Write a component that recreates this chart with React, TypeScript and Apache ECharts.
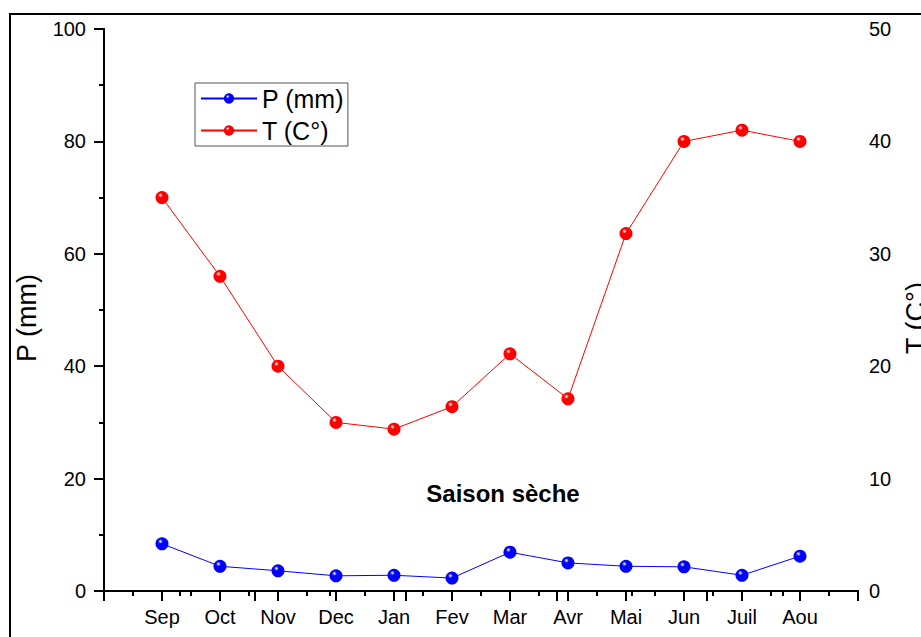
import React, { useEffect, useRef } from "react";
import * as echarts from "echarts";

const months = ["Sep", "Oct", "Nov", "Dec", "Jan", "Fev", "Mar", "Avr", "Mai", "Jun", "Juil", "Aou"];
const precip = [8.4, 4.4, 3.6, 2.7, 2.8, 2.3, 6.9, 5.0, 4.4, 4.3, 2.8, 6.2];
const temp = [35.0, 28.0, 20.0, 15.0, 14.4, 16.4, 21.1, 17.1, 31.8, 40.0, 41.0, 40.0];
const leftTicks = { min: 0, max: 100, interval: 20 };
const rightTicks = { min: 0, max: 50, interval: 10 };

const FONT = "'Liberation Sans', Arial, sans-serif";

const sphere = (c: string) =>
  new echarts.graphic.RadialGradient(0.38, 0.32, 0.75, [
    { offset: 0, color: "#ffffff" },
    { offset: 0.25, color: c },
    { offset: 1, color: c },
  ]);

export default function App() {
  const ref = useRef<HTMLDivElement>(null);
  useEffect(() => {
    if (!ref.current) return;
    const chart = echarts.init(ref.current, undefined, { renderer: "svg" });
    const axisLine = { show: true, lineStyle: { color: "#000", width: 2 } };
    chart.setOption({
      animation: false,
      backgroundColor: "#fff",
      textStyle: { fontFamily: FONT },
      grid: { left: 104, right: 63, top: 29, bottom: 46, containLabel: false, outerBoundsMode: "none" },
      legend: {
        orient: "vertical",
        left: 195,
        top: 83,
        padding: [3, 4, 3, 5],
        borderColor: "#555",
        borderWidth: 1,
        itemWidth: 56,
        itemHeight: 13,
        itemGap: 7,
        textStyle: { fontSize: 25, color: "#000", fontFamily: FONT },
        data: ["P (mm)", "T (C°)"],
      },
      xAxis: [
        {
          type: "value",
          position: "bottom",
          min: 0,
          max: 13,
          interval: 1,
          axisLine,
          axisTick: { show: true, inside: false, length: 10, lineStyle: { color: "#000", width: 2 } },
          minorTick: { show: true, splitNumber: 2, length: 5, lineStyle: { color: "#000", width: 2 } },
          splitLine: { show: false },
          axisLabel: {
            margin: 16,
            fontSize: 20,
            color: "#000",
            fontFamily: FONT,
            formatter: (v: number) => months[v - 1] ?? "",
          },
        },
        {
          type: "value",
          position: "top",
          min: 0,
          max: 5,
          interval: 1,
          axisLine,
          axisTick: { show: true, inside: true, length: 10, lineStyle: { color: "#000", width: 2 } },
          minorTick: { show: true, splitNumber: 2, length: 5, lineStyle: { color: "#000", width: 2 } },
          splitLine: { show: false },
          axisLabel: { show: false },
        },
      ],
      yAxis: [
        {
          type: "value",
          position: "left",
          ...leftTicks,
          name: "P (mm)",
          nameLocation: "middle",
          nameGap: 64,
          nameRotate: 90,
          nameTextStyle: { fontSize: 27, color: "#000", fontFamily: FONT, padding: [0, 16, 0, 0] },
          axisLine,
          axisTick: { show: true, inside: false, length: 10, lineStyle: { color: "#000", width: 2 } },
          minorTick: { show: true, splitNumber: 2, length: 5, lineStyle: { color: "#000", width: 2 } },
          splitLine: { show: false },
          axisLabel: { margin: 18, fontSize: 20, color: "#000", fontFamily: FONT },
        },
        {
          type: "value",
          position: "right",
          ...rightTicks,
          name: "T (C°)",
          nameLocation: "middle",
          nameGap: 44,
          nameRotate: 90,
          nameTextStyle: { fontSize: 27, color: "#000", fontFamily: FONT, padding: [0, 16, 0, 0] },
          axisLine,
          axisTick: { show: true, inside: true, length: 10, lineStyle: { color: "#000", width: 2 } },
          minorTick: { show: true, splitNumber: 2, length: 5, lineStyle: { color: "#000", width: 2 } },
          splitLine: { show: false },
          axisLabel: { margin: 11, fontSize: 20, color: "#000", fontFamily: FONT },
        },
      ],
      series: [
        {
          name: "P (mm)",
          type: "line",
          xAxisIndex: 0,
          yAxisIndex: 0,
          data: months.map((_, i) => [i + 1, precip[i]]),
          symbol: "circle",
          symbolSize: 13,
          lineStyle: { color: "#0000ff", width: 1 },
          itemStyle: { color: sphere("#0000ff"), borderWidth: 0 },
        },
        {
          name: "T (C°)",
          type: "line",
          xAxisIndex: 0,
          yAxisIndex: 1,
          data: months.map((_, i) => [i + 1, temp[i]]),
          symbol: "circle",
          symbolSize: 13,
          lineStyle: { color: "#ff0000", width: 1 },
          itemStyle: { color: sphere("#ff0000"), borderWidth: 0 },
        },
      ],
      graphic: [
        {
          type: "rect",
          shape: { x: 10, y: 14, width: 1000, height: 1000 },
          style: { fill: "none", stroke: "#000", lineWidth: 2 },
          silent: true,
        },
        {
          type: "text",
          x: 503,
          y: 493,
          style: {
            text: "Saison sèche",
            font: `bold 24px ${FONT}`,
            fill: "#000",
            textAlign: "center",
            textVerticalAlign: "middle",
          },
        },
      ],
    });
    return () => chart.dispose();
  }, []);
  return <div ref={ref} style={{ position: "fixed", left: 0, top: 0, width: 921, height: 637 }} />;
}
